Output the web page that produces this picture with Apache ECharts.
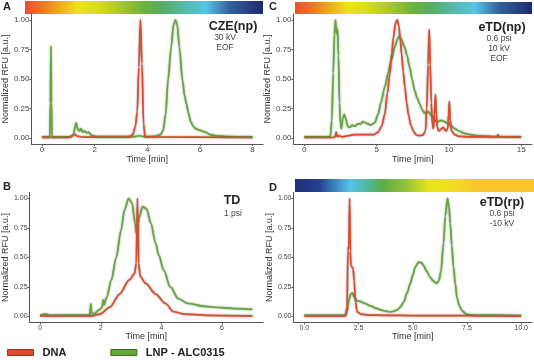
<!DOCTYPE html>
<html>
<head>
<meta charset="utf-8">
<script src="https://cdn.jsdelivr.net/npm/echarts@6/dist/echarts.min.js"></script>
<style>
  html, body { margin: 0; padding: 0; background: #fff; }
  #chart { width: 534px; height: 360px; }
</style>
</head>
<body>
<div id="chart"></div>
<script>
// ---- data: [time (min), normalized RFU] ----
const czeDna = [[0,0.005],[1.0,0.005],[1.15,0.02],[1.25,0.03],[1.35,0.015],[1.6,0.008],[3.3,0.008],[3.45,0.03],[3.55,0.1],[3.62,0.22],[3.68,0.6],[3.74,1.0],[3.8,0.63],[3.86,0.12],[3.92,0.01],[8,0.005]];
const czeLnp = [[0,0.01],[0.3,0.01],[0.32,0.3],[0.34,0.78],[0.36,0.3],[0.38,0.01],[1.1,0.01],[1.2,0.03],[1.26,0.1],[1.3,0.13],[1.35,0.08],[1.42,0.06],[1.48,0.08],[1.55,0.05],[1.62,0.06],[1.7,0.045],[1.78,0.05],[1.85,0.03],[1.95,0.02],[2.1,0.012],[3.5,0.012],[3.7,0.02],[3.9,0.012],[4.3,0.015],[4.5,0.03],[4.6,0.06],[4.7,0.2],[4.79,0.49],[4.91,0.77],[5.0,0.96],[5.07,1.0],[5.14,0.96],[5.22,0.77],[5.34,0.49],[5.42,0.36],[5.49,0.29],[5.57,0.21],[5.65,0.14],[5.75,0.1],[5.84,0.08],[6.0,0.065],[6.2,0.05],[6.4,0.03],[6.6,0.02],[7.0,0.012],[8,0.01]];

const tdDna = [[0,0.005],[1.7,0.005],[1.97,0.02],[2.3,0.08],[2.62,0.19],[2.94,0.31],[3.11,0.36],[3.17,0.45],[3.21,1.0],[3.25,0.45],[3.3,0.34],[3.48,0.28],[3.81,0.19],[4.13,0.11],[4.4,0.04],[4.78,0.02],[5.5,0.01],[7,0.005]];
const tdLnp = [[0,0.01],[0.2,0.02],[0.3,0.01],[1.64,0.012],[1.67,0.11],[1.7,0.03],[1.76,0.02],[1.97,0.06],[2.05,0.08],[2.08,0.14],[2.11,0.1],[2.19,0.16],[2.35,0.31],[2.51,0.5],[2.67,0.73],[2.78,0.9],[2.92,1.0],[3.03,0.96],[3.13,0.79],[3.18,0.7],[3.27,0.84],[3.38,0.93],[3.51,0.91],[3.65,0.79],[3.81,0.62],[3.91,0.52],[4.08,0.39],[4.29,0.25],[4.56,0.15],[4.88,0.11],[5.42,0.086],[5.96,0.075],[6.5,0.066],[7,0.06]];

const etdNpDna = [[0,0.005],[2.0,0.005],[2.12,0.01],[2.2,0.05],[2.28,0.01],[2.4,0.02],[2.6,0.01],[3.0,0.02],[3.5,0.03],[4.2,0.03],[4.8,0.03],[5.1,0.05],[5.35,0.1],[5.56,0.2],[5.75,0.38],[5.91,0.54],[6.05,0.72],[6.16,0.85],[6.3,0.97],[6.42,1.0],[6.54,0.95],[6.64,0.83],[6.73,0.71],[6.84,0.56],[6.96,0.43],[7.08,0.3],[7.2,0.2],[7.37,0.11],[7.54,0.06],[7.72,0.03],[7.9,0.02],[8.2,0.025],[8.38,0.06],[8.47,0.25],[8.56,0.62],[8.64,0.92],[8.71,0.62],[8.78,0.3],[8.85,0.12],[8.93,0.08],[9.0,0.2],[9.07,0.37],[9.13,0.2],[9.2,0.09],[9.3,0.06],[9.4,0.07],[9.6,0.09],[9.8,0.06],[9.92,0.08],[9.98,0.2],[10.03,0.31],[10.09,0.15],[10.18,0.06],[10.4,0.03],[10.7,0.015],[11.5,0.01],[13.35,0.01],[13.4,0.03],[13.45,0.01],[15,0.008]];
const etdNpLnp = [[0,0.01],[1.8,0.012],[1.9,0.15],[2.0,0.55],[2.08,0.88],[2.16,1.0],[2.23,0.88],[2.3,0.92],[2.36,0.7],[2.43,0.3],[2.5,0.12],[2.56,0.08],[2.66,0.16],[2.76,0.2],[2.86,0.17],[3.0,0.1],[3.14,0.09],[3.3,0.11],[3.5,0.1],[3.7,0.12],[3.9,0.12],[4.05,0.14],[4.2,0.13],[4.4,0.12],[4.6,0.11],[4.87,0.13],[5.1,0.2],[5.3,0.3],[5.56,0.43],[5.8,0.55],[6.02,0.66],[6.25,0.77],[6.45,0.84],[6.55,0.86],[6.7,0.84],[6.94,0.77],[7.1,0.7],[7.29,0.6],[7.45,0.5],[7.64,0.4],[7.8,0.34],[7.98,0.29],[8.15,0.24],[8.33,0.21],[8.5,0.22],[8.6,0.22],[8.8,0.19],[9.02,0.15],[9.25,0.14],[9.49,0.15],[9.7,0.14],[9.95,0.12],[10.2,0.1],[10.4,0.08],[10.7,0.06],[11.1,0.04],[11.5,0.03],[12.0,0.02],[13,0.012],[15,0.01]];

const etdRpDna = [[0,0.005],[1.9,0.005],[1.97,0.08],[2.01,0.56],[2.05,0.6],[2.09,1.0],[2.12,0.55],[2.15,0.43],[2.2,0.42],[2.25,0.4],[2.3,0.3],[2.36,0.12],[2.44,0.04],[2.6,0.02],[3.0,0.012],[3.66,0.01],[5,0.008],[7.5,0.008],[8,0.005],[10,0.004]];
const etdRpLnp = [[0,0.01],[1.9,0.01],[1.98,0.05],[2.06,0.14],[2.14,0.19],[2.21,0.2],[2.32,0.16],[2.44,0.13],[2.55,0.13],[2.67,0.12],[2.8,0.11],[3.05,0.09],[3.3,0.07],[3.51,0.056],[3.75,0.045],[3.97,0.04],[4.15,0.045],[4.28,0.055],[4.43,0.08],[4.58,0.12],[4.74,0.2],[4.89,0.28],[5.0,0.35],[5.12,0.42],[5.27,0.46],[5.4,0.455],[5.5,0.43],[5.65,0.38],[5.81,0.33],[5.95,0.3],[6.09,0.28],[6.2,0.3],[6.3,0.38],[6.42,0.62],[6.5,0.85],[6.6,1.0],[6.67,0.93],[6.73,0.79],[6.8,0.6],[6.88,0.42],[6.96,0.28],[7.04,0.16],[7.15,0.09],[7.27,0.05],[7.45,0.02],[7.65,0.012],[10,0.008]];

// tick labels
const yTicks = [0, 0.25, 0.5, 0.75, 1];
const czeTicks = [0, 2, 4, 6, 8];
const tdTicks = [0, 2, 4, 6];
const etdNpTicks = [0, 5, 10, 15];
const etdRpTicks = [0, 2.5, 5, 7.5, 10];

const seriesNames = ['DNA', 'LNP - ALC0315'];

const FONT = '"Liberation Sans", Arial, sans-serif';
const RED = '#e04a2c';
const GREEN = '#62a937';
const AXIS = '#555';
const LABEL = '#444';

const panels = [
  { grid: { left: 25, top: 14, width: 238, height: 130 }, dna: czeDna, lnp: czeLnp, ticks: czeTicks, digits: 0, fs: 8, xGap: 8 },
  { grid: { left: 25, top: 192.4, width: 238, height: 130 }, dna: tdDna, lnp: tdLnp, ticks: tdTicks, digits: 0, fs: 7, xGap: 6.5 },
  { grid: { left: 293.5, top: 14, width: 238.5, height: 130 }, dna: etdNpDna, lnp: etdNpLnp, ticks: etdNpTicks, digits: 0, fs: 8, xGap: 8 },
  { grid: { left: 293.5, top: 192.4, width: 238.5, height: 130 }, dna: etdRpDna, lnp: etdRpLnp, ticks: etdRpTicks, digits: 1, fs: 7, xGap: 6.5 }
];

// ggplot-like 5% expansion of the data range
function expand(data) {
  const xs = data.map(d => d[0]);
  const lo = Math.min(...xs), hi = Math.max(...xs);
  const r = hi - lo;
  return { min: lo - 0.05 * r, max: hi + 0.05 * r };
}

const xAxes = [], yAxes = [], series = [];
panels.forEach((p, i) => {
  const ext = expand(p.dna.concat(p.lnp));
  xAxes.push({
    type: 'value', gridIndex: i, min: ext.min, max: ext.max,
    name: 'Time [min]', nameLocation: 'middle', nameGap: p.xGap,
    nameTextStyle: { fontSize: 9, color: '#333', fontFamily: FONT },
    axisLine: { show: true, onZero: false, lineStyle: { color: AXIS, width: 1 } },
    axisTick: { show: true, length: 2, customValues: p.ticks, lineStyle: { color: AXIS } },
    axisLabel: { customValues: p.ticks, formatter: v => v.toFixed(p.digits), fontSize: p.fs, color: LABEL, fontFamily: FONT, margin: 2 },
    splitLine: { show: false }
  });
  yAxes.push({
    type: 'value', gridIndex: i, min: -0.05, max: 1.05,
    name: 'Normalized RFU [a.u.]', nameLocation: 'middle', nameGap: 16,
    nameTextStyle: { fontSize: 9, color: '#333', fontFamily: FONT },
    axisLine: { show: true, onZero: false, lineStyle: { color: AXIS, width: 1 } },
    axisTick: { show: true, length: 2, customValues: yTicks, lineStyle: { color: AXIS } },
    axisLabel: { customValues: yTicks, formatter: v => v.toFixed(2), fontSize: p.fs, color: LABEL, fontFamily: FONT, margin: 2 },
    splitLine: { show: false }
  });
  const line = (name, data, color, z) => ({
    type: 'line', name, data, xAxisIndex: i, yAxisIndex: i, z,
    showSymbol: false, symbol: 'none', smooth: 0.3, smoothMonotone: 'x',
    lineStyle: { color, width: 1.7, shadowColor: 'rgba(60,60,60,0.6)', shadowBlur: 2 },
    itemStyle: { color }
  });
  series.push(line(seriesNames[1], p.lnp, GREEN, 2));
  series.push(line(seriesNames[0], p.dna, RED, 3));
});

// colour bars above panels A, C, D
const spectrum = [
  [0, '#e84e2a'], [0.08, '#ee7c24'], [0.22, '#ece21a'], [0.3, '#dcdc20'], [0.4, '#a8c830'],
  [0.5, '#6ab23a'], [0.58, '#55ad66'], [0.66, '#57b8a6'], [0.76, '#58c3e6'], [0.86, '#34609f'], [1, '#1f2a6e']
];
const spectrumRev = [
  [0, '#1f2f7a'], [0.1, '#22408e'], [0.23, '#55c3ea'], [0.3, '#4db8a0'], [0.37, '#5bad45'],
  [0.47, '#9ac33a'], [0.56, '#e8e418'], [0.66, '#f0de20'], [0.76, '#fbc42a'], [1, '#fbc42a']
];
const bar = (x, y, w, h, stops) => ({
  type: 'rect', silent: true, shape: { x, y, width: w, height: h },
  style: { fill: { type: 'linear', x: 0, y: 0, x2: 1, y2: 0, colorStops: stops.map(s => ({ offset: s[0], color: s[1] })) } }
});

const t = (text, left, top, size, bold, color, align) => ({
  text, left, top, padding: 0, textAlign: align || 'left', textVerticalAlign: 'top',
  textStyle: { fontSize: size, fontWeight: bold ? 'bold' : 'normal', color: color || '#222', fontFamily: FONT, lineHeight: size + 1.5 }
});

const chart = echarts.init(document.getElementById('chart'));
chart.setOption({
  animation: false,
  backgroundColor: '#fff',
  title: [
    t('A', 3, 1, 11, true),
    t('C', 269, 1, 11, true),
    t('B', 3, 181, 11, true),
    t('D', 269, 182, 11, true),
    t('CZE(np)', 233, 19.5, 12.5, true, '#222', 'center'),
    t('30 kV\nEOF', 225, 32.5, 8.5, false, LABEL, 'center'),
    t('eTD(np)', 502, 21, 12.5, true, '#222', 'center'),
    t('0.6 psi\n10 kV\nEOF', 499, 33.5, 8.5, false, LABEL, 'center'),
    t('TD', 232, 193.5, 12.5, true, '#222', 'center'),
    t('1 psi', 233, 208.5, 8.5, false, LABEL, 'center'),
    t('eTD(rp)', 502, 196, 12.5, true, '#222', 'center'),
    t('0.6 psi\n-10 kV', 502, 208.5, 8.5, false, LABEL, 'center')
  ],
  legend: {
    left: 7, top: 347, padding: 0, itemWidth: 26, itemHeight: 6, itemGap: 44, icon: 'rect',
    textStyle: { fontSize: 11, fontWeight: 'bold', color: '#222', fontFamily: FONT, padding: [0, 0, 0, 4] },
    data: [
      { name: seriesNames[0], itemStyle: { color: RED, borderColor: '#9c2f1c', borderWidth: 1 } },
      { name: seriesNames[1], itemStyle: { color: GREEN, borderColor: '#3c6e20', borderWidth: 1 } }
    ]
  },
  graphic: [
    bar(25, 1, 238, 13, spectrum),
    bar(295, 2, 237, 12, spectrum),
    bar(295, 179, 239, 13, spectrumRev)
  ],
  grid: panels.map(p => p.grid),
  xAxis: xAxes,
  yAxis: yAxes,
  series
});
</script>
</body>
</html>
